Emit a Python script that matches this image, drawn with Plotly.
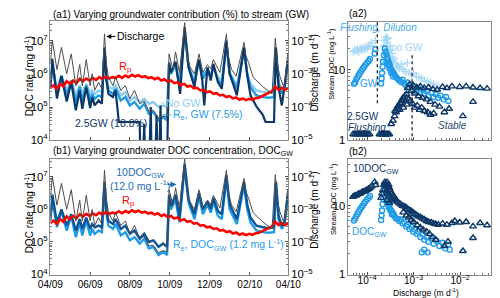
import pandas as pd
import plotly.graph_objects as go

START = "2009-04-01"
END = "2010-04-01"

# ---------------- time series (day offset from 2009-04-01) ----------------
q_days = [0,3,10,17,25,32,39,45,49,55,61,64,68,74,79,83,86,89,96,100,108,115,122,129,137,144,151,158,166,173,
          179,182,188,192,198,206,209,214,221,228,234,241,246,250,260,270,273,278,285,297,300,304,311,326,340,345,348,352,359,364]
discharge = [2.2e-3,1.0e-2,1.35e-3,6.3e-3,1.0e-3,4.0e-3,4.4e-4,1.9e-3,4.4e-4,2.7e-3,
             4.4e-4,1.0e-3,3.2e-4,5.6e-4,3.5e-4,1.6e-2,2.0e-3,7.9e-4,4.4e-4,7.9e-4,
             3.2e-4,4.4e-4,1.8e-4,3.2e-4,1.26e-4,1.5e-4,7.6e-5,7.9e-5,4.7e-5,5.4e-5,
             5.0e-5,4.0e-3,1.35e-3,4.6e-3,1.1e-3,3.5e-2,4.0e-3,1.66e-3,1.0e-3,4.0e-3,
             1.1e-3,1.9e-3,1.4e-3,2.7e-3,1.1e-3,1.6e-2,3.2e-3,1.35e-3,8.5e-4,8.9e-3,
             3.5e-3,2.2e-3,7.9e-4,4.1e-4,2.5e-4,1.17e-2,2.0e-3,8.5e-4,3.5e-4,4.0e-3]

rp_days = [0,5,10,15,20,25,30,35,40,45,50,55,60,65,70,75,80,85,90,95,100,105,110,115,120,125,130,135,140,145,
           150,155,160,165,170,175,180,185,190,195,200,205,210,215,220,225,230,235,240,245,250,255,260,265,270,
           275,280,285,290,295,300,305,310,315,320,325,330,335,340,345,350,355,360,365]
r_p = [3.8e5,4.47e5,3.55e5,5.01e5,4.17e5,6.03e5,5.01e5,6.31e5,5.25e5,7.08e5,6.03e5,7.24e5,6.31e5,7.59e5,6.61e5,
       7.94e5,6.92e5,8.32e5,7.24e5,7.94e5,7.59e5,8.71e5,7.59e5,8.91e5,7.94e5,9.33e5,8.32e5,9.12e5,7.94e5,8.51e5,
       7.41e5,7.94e5,6.92e5,7.59e5,6.31e5,6.92e5,5.75e5,6.31e5,5.25e5,5.62e5,4.57e5,5.01e5,4.17e5,4.37e5,3.63e5,
       3.8e5,3.16e5,3.31e5,2.82e5,2.95e5,2.51e5,2.63e5,2.24e5,2.34e5,2.0e5,2.14e5,1.82e5,1.95e5,1.66e5,1.82e5,
       1.62e5,1.78e5,1.66e5,1.86e5,1.91e5,2.14e5,2.29e5,2.63e5,3.02e5,4.17e5,3.31e5,3.8e5,3.31e5,3.8e5]

re_days = [0,3,10,17,25,32,39,45,49,55,61,64,68,74,79,83,86,89,96,100,108,115,122,129,137,144,151,158,166,173,
           179,182,185,192,198,206,212,221,228,234,241,246,250,257,263,270,275,282,286,297,302,307,316,326,335,343,
           346,350,355,359,364]
re_nogw = [5.62e5,1.78e6,3.55e5,8.91e5,3.16e5,6.31e5,2.24e5,4.47e5,2.51e5,5.01e5,
           2.51e5,3.16e5,2.51e5,3.16e5,2.82e5,3.98e6,7.94e5,3.98e5,3.55e5,4.47e5,
           2.24e5,2.82e5,1.58e5,2.0e5,1.41e5,1.78e5,1.26e5,1.41e5,1.0e5,1.12e5,
           1.0e5,1.78e6,1.0e6,1.78e6,5.62e5,1.58e7,1.58e6,7.08e5,2.24e6,1.0e6,
           1.26e6,8.91e5,1.58e6,7.94e5,6.31e5,7.08e6,1.12e6,6.31e5,4.47e5,4.47e6,
           1.0e6,5.01e5,3.16e5,2.82e5,2.82e5,3.02e5,3.98e6,5.62e5,3.16e5,3.55e5,1.58e6]
re_gw = [4.47e5,2.0e6,2.82e5,8.91e5,2.24e5,6.31e5,1.41e5,3.98e5,1.58e5,4.47e5,
         1.58e5,2.51e5,1.78e5,2.24e5,2.0e5,5.01e6,7.08e5,3.16e5,2.51e5,3.55e5,
         1.58e5,2.0e5,1.12e5,1.41e5,8.91e4,1.26e5,6.31e4,7.08e4,3.98e4,5.01e4,
         3.98e4,2.0e6,1.0e6,2.0e6,3.98e5,2.0e7,1.58e6,5.01e5,2.51e6,7.08e5,
         1.41e6,7.94e5,1.78e6,6.31e5,5.01e5,8.91e6,1.0e6,5.01e5,3.55e5,5.62e6,
         1.0e6,3.98e5,2.24e5,2.0e5,1.91e5,2.0e5,5.62e6,5.01e5,2.51e5,3.55e5,2.24e6]
re_10doc = [5.62e5,2.82e6,3.98e5,1.0e6,3.16e5,7.08e5,2.24e5,5.01e5,2.51e5,5.62e5,
            2.51e5,3.55e5,2.82e5,3.16e5,2.82e5,7.08e6,1.0e6,4.47e5,3.55e5,5.01e5,
            2.51e5,3.16e5,1.78e5,2.24e5,1.26e5,1.78e5,1.0e5,1.12e5,7.08e4,8.91e4,
            7.08e4,2.82e6,1.26e6,2.82e6,5.62e5,2.51e7,2.0e6,7.08e5,3.16e6,1.0e6,
            1.78e6,1.0e6,2.24e6,8.91e5,7.08e5,1.12e7,1.41e6,7.08e5,5.01e5,7.08e6,
            1.41e6,5.62e5,3.16e5,2.82e5,2.63e5,2.82e5,7.08e6,6.31e5,3.16e5,3.98e5,2.82e6]

gw25_days = [0,3,10,17,25,32,39,45,49,55,61,64,68,74,79,83,86,89,96,100,105,137,138,142,144,145,152,154,155,161,
             163,164,167,169,170,179,182,185,192,199,206,212,221,225,228,233,236,241,246,250,257,263,270,275,282,
             286,297,302,307,316,326,330,343,346,350,355,359,364]
re_25gw = [3.55e5,2.82e6,1.82e5,8.51e5,1.48e5,5.62e5,7.94e4,3.16e5,8.91e4,3.98e5,
           9.33e4,2.0e5,1.12e5,1.58e5,1.26e5,6.31e6,6.31e5,2.51e5,2.0e5,3.16e5,
           3.55e4,3.55e4,3.2e3,3.2e3,3.16e4,3.2e3,3.2e3,1.0e5,3.2e3,3.2e3,
           5.62e4,3.2e3,3.2e3,1.12e5,3.2e3,3.2e3,2.19e6,1.12e6,2.34e6,2.51e5,
           2.51e7,1.58e6,3.98e5,1.58e6,2.69e6,6.31e5,1.12e5,1.58e6,6.31e5,2.0e6,
           5.62e5,3.55e5,1.0e7,1.0e6,3.98e5,2.24e5,6.31e6,8.91e5,2.24e5,1.05e5,
           5.75e4,3.55e4,3.55e4,6.31e6,3.98e5,1.12e5,3.98e5,2.51e6]

# ---------------- concentration-discharge scatter ----------------
nogw_q = [5.0e-5,5.4e-5,5.8e-5,6.2e-5,6.6e-5,7.1e-5,7.6e-5,8.1e-5,8.7e-5,9.3e-5,1.0e-4,1.07e-4,1.15e-4,1.25e-4,1.5e-4,
          2.1e-4,2.3e-4,2.4e-4,2.5e-4,2.6e-4,2.7e-4,2.8e-4,3.0e-4,3.2e-4,3.4e-4,3.6e-4,3.8e-4,4.0e-4,4.3e-4,
          2.4e-4,2.6e-4,2.9e-4,3.1e-4,3.5e-4,
          4.6e-4,5.0e-4,5.5e-4,6.0e-4,6.6e-4,7.3e-4,8.0e-4,9.0e-4,1.0e-3,1.15e-3,1.3e-3,1.5e-3,1.7e-3,2.0e-3,2.3e-3,2.7e-3,3.2e-3]
nogw_c = [18,19,18.5,19.5,18,20,19,20.5,19,21,20,21.5,22,24,26,
          14,22,26,29,27,24,28,22,19,17,15,14,12.5,11.5,
          17,20,18,15,13,
          11,10.5,12,10,9.5,12.5,9,8.5,9,8,7.8,7.5,7,6.8,6.5,6.2,6]

gw_q = [5.2e-5,5.5e-5,5.8e-5,6.2e-5,6.6e-5,7.0e-5,7.5e-5,8.0e-5,8.6e-5,9.2e-5,1.0e-4,1.08e-4,1.15e-4,
        1.45e-4,1.5e-4,
        2.0e-4,2.05e-4,2.1e-4,2.15e-4,2.2e-4,2.3e-4,2.4e-4,
        2.5e-4,2.6e-4,2.7e-4,2.8e-4,2.9e-4,3.0e-4,3.1e-4,3.2e-4,3.3e-4,3.5e-4,3.7e-4,3.9e-4,4.1e-4,4.4e-4,
        2.6e-4,2.8e-4,3.0e-4,3.3e-4,3.6e-4,
        4.7e-4,5.0e-4,5.4e-4,5.8e-4,6.3e-4,6.8e-4,7.4e-4,8.0e-4,8.8e-4,9.6e-4,1.05e-3,1.15e-3,1.25e-3,1.4e-3,
        1.55e-3,1.7e-3,1.9e-3,2.1e-3,2.4e-3,2.7e-3,3.0e-3,3.4e-3,3.8e-3,4.4e-3,5.0e-3,5.6e-3]
gw_c = [6.3,6.6,7.2,7.8,8.4,9.0,9.6,10.3,11,11.8,12.5,13.3,14.2,
        17,19.5,
        6.4,7.5,9,11,13,16,20,
        18,16.5,15,14,13,12,11.5,10.5,10,9.5,9,8.5,8,7.6,
        13,12,10.5,9,8,
        7.3,7.0,6.7,7.2,6.4,6.0,6.6,5.7,6.2,5.3,5.8,5.0,5.5,4.8,
        5.2,4.6,5.0,4.3,4.7,4.1,4.5,4.0,4.3,3.8,4.1,3.6]

gw25_q = [5.0e-5,5.5e-5,6.0e-5,6.5e-5,7.0e-5,7.6e-5,8.2e-5,8.9e-5,9.6e-5,1.04e-4,1.12e-4,
          1.85e-4,2.0e-4,2.15e-4,2.3e-4,2.45e-4,2.6e-4,2.8e-4,3.0e-4,
          3.3e-4,3.6e-4,3.9e-4,4.2e-4,4.5e-4,4.8e-4,5.2e-4,5.6e-4,6.0e-4,6.5e-4,7.0e-4,
          4.0e-4,4.5e-4,5.0e-4,5.5e-4,6.0e-4,6.6e-4,7.2e-4,8.0e-4,
          7.5e-4,8.2e-4,9.0e-4,9.8e-4,1.07e-3,1.17e-3,1.28e-3,1.4e-3,1.55e-3,1.7e-3,1.9e-3,2.1e-3,2.3e-3,2.6e-3,2.9e-3,3.2e-3,3.6e-3,
          8.5e-4,9.5e-4,1.05e-3,1.2e-3,1.35e-3,1.5e-3,1.7e-3,2.0e-3,2.3e-3,2.7e-3,
          4.2e-3,5.2e-3,6.7e-3,9.8e-3,1.35e-2,1.9e-2,2.7e-2,3.8e-2,4.6e-3,5.8e-3,1.15e-2,1.9e-2]
gw25_c = [1.22,1.22,1.22,1.22,1.22,1.22,1.22,1.22,1.22,1.22,1.22,
          1.22,1.22,1.22,1.22,1.22,1.22,1.22,1.22,
          1.7,1.9,2.2,2.5,2.8,3.1,3.4,3.7,4.0,4.3,4.5,
          2.6,3.0,2.7,3.3,2.9,3.6,3.2,3.8,
          5.5,6.2,5.0,6.0,4.6,5.6,4.2,5.8,4.0,5.5,3.8,5.6,3.5,5.3,3.2,5.2,3.0,
          3.6,3.3,2.9,3.1,2.7,2.9,2.6,2.5,2.3,2.4,
          5.7,5.5,5.8,5.7,5.8,5.6,5.5,5.4,2.5,2.8,2.2,3.5]

doc10_q = [5.0e-5,5.4e-5,5.8e-5,6.2e-5,6.6e-5,7.1e-5,7.6e-5,8.1e-5,8.7e-5,9.3e-5,1.0e-4,1.07e-4,1.15e-4,1.25e-4,
           1.45e-4,1.52e-4,
           2.0e-4,2.1e-4,2.2e-4,2.3e-4,2.4e-4,
           2.5e-4,2.6e-4,2.7e-4,2.8e-4,2.9e-4,3.0e-4,3.1e-4,3.2e-4,3.4e-4,3.6e-4,3.8e-4,4.0e-4,
           2.6e-4,2.8e-4,3.0e-4,3.3e-4,3.6e-4,2.7e-4,3.0e-4,
           4.4e-4,4.8e-4,5.2e-4,5.7e-4,6.2e-4,6.8e-4,7.4e-4,8.1e-4,8.9e-4,9.7e-4,1.06e-3,1.16e-3,1.27e-3,1.4e-3,
           1.55e-3,1.7e-3,1.9e-3,2.1e-3,2.4e-3,2.7e-3,3.0e-3,3.4e-3,
           6.0e-4,7.0e-4,8.0e-4,9.0e-4,1.0e-3,1.2e-3,1.4e-3,1.6e-3,1.9e-3,2.2e-3,2.6e-3,3.0e-3,
           4.2e-3,5.2e-3,6.7e-3,7.7e-3,9.8e-3,1.35e-2,1.9e-2,2.7e-2,3.8e-2,4.6e-3,5.5e-3,1.15e-2,1.9e-2]
doc10_c = [13.5,14,14,14.5,15,15,15.5,16,16,16.5,17,17.5,18,19,
           22,20,
           13,15,17,20,22,
           21,20,22,19,20,18,17,16,15,14,13.5,12.5,
           16,15,14,13,12,12,11,
           11.5,11,10.5,10,9.8,9.5,9.0,8.7,8.3,8,7.6,7.3,7.0,6.8,
           6.5,6.3,6.0,5.8,5.7,5.5,5.4,5.3,
           8,7.2,6.8,6.2,5.8,5.2,4.8,4.5,4.2,3.9,3.5,3.2,
           5.5,5.3,5.6,6.0,5.7,5.8,5.0,5.6,5.2,2.6,3.0,2.2,3.4]

docgw_q = [5.2e-5,5.5e-5,5.8e-5,6.2e-5,6.6e-5,7.0e-5,7.5e-5,8.0e-5,8.6e-5,9.2e-5,1.0e-4,1.08e-4,1.15e-4,
           2.0e-4,2.05e-4,2.1e-4,2.15e-4,2.2e-4,2.3e-4,2.4e-4,
           2.5e-4,2.6e-4,2.7e-4,2.8e-4,2.9e-4,3.0e-4,3.1e-4,3.3e-4,3.5e-4,3.7e-4,3.9e-4,4.2e-4,
           2.7e-4,2.9e-4,3.2e-4,3.4e-4,
           4.5e-4,4.9e-4,5.3e-4,5.8e-4,6.3e-4,6.9e-4,7.5e-4,8.2e-4,9.0e-4,9.8e-4,1.07e-3,1.17e-3,1.28e-3,1.4e-3,
           1.55e-3,1.7e-3,1.9e-3,2.1e-3,2.4e-3,2.7e-3,3.1e-3,3.6e-3,4.2e-3,4.8e-3,5.5e-3,6.0e-3,
           1.5e-3,1.7e-3,2.0e-3]
docgw_c = [6.1,6.5,7.0,7.6,8.2,8.8,9.4,10,10.8,11.5,12.3,13,13.8,
           6.2,7.2,8.5,10.5,12.5,15,18,
           17,15,14,12,11,10,9,8.5,8,7.5,7,6.5,
           11,9.5,8.5,7.5,
           6.5,6.0,6.3,5.5,5.8,5.0,5.3,4.6,4.9,4.2,4.5,3.9,4.2,3.5,
           3.8,3.2,3.5,3.0,3.3,2.8,3.1,2.6,2.9,2.4,2.7,2.3,
           2.1,2.3,2.1]

# regime boundaries in (a2)
regime_q = [1.66e-4, 9.3e-4]
regime_c_top = [47.0, 16.0]
regime_c_bot = [3.06, 1.0]

# ---------------- styling ----------------
C_GRAY = "#4d4d4d"
C_RED = "#ff0000"
C_LIGHT = "#8ecbf2"
C_MED = "#1f9be6"
C_NAVY = "#0c3766"
C_DOC10 = "#0d5596"
FONT = "Liberation Sans, Arial, sans-serif"
W, H = 500, 298


def dates(days):
    return pd.Timestamp(START) + pd.to_timedelta(days, unit="D")


def px(x):
    return x / W


def py(y):
    return 1 - y / H


fig = go.Figure()

# (a1)
fig.add_trace(go.Scatter(x=dates(re_days), y=re_nogw, mode="lines", line=dict(color=C_LIGHT, width=2.4), xaxis="x", yaxis="y"))
fig.add_trace(go.Scatter(x=dates(re_days), y=re_gw, mode="lines", line=dict(color=C_MED, width=2.4), xaxis="x", yaxis="y"))
fig.add_trace(go.Scatter(x=dates(gw25_days), y=re_25gw, mode="lines", line=dict(color=C_NAVY, width=2.2), xaxis="x", yaxis="y"))
fig.add_trace(go.Scatter(x=dates(rp_days), y=r_p, mode="lines", line=dict(color=C_RED, width=2.6), xaxis="x", yaxis="y"))
fig.add_trace(go.Scatter(x=dates(q_days), y=discharge, mode="lines", line=dict(color=C_GRAY, width=1), xaxis="x", yaxis="y2"))

# (b1)
fig.add_trace(go.Scatter(x=dates(re_days), y=re_gw, mode="lines", line=dict(color=C_MED, width=2.4), xaxis="x2", yaxis="y3"))
fig.add_trace(go.Scatter(x=dates(re_days), y=re_10doc, mode="lines", line=dict(color=C_DOC10, width=2.4), xaxis="x2", yaxis="y3"))
fig.add_trace(go.Scatter(x=dates(rp_days), y=r_p, mode="lines", line=dict(color=C_RED, width=2.6), xaxis="x2", yaxis="y3"))
fig.add_trace(go.Scatter(x=dates(q_days), y=discharge, mode="lines", line=dict(color=C_GRAY, width=1), xaxis="x2", yaxis="y4"))

# (a2)
fig.add_trace(go.Scatter(x=nogw_q, y=nogw_c, mode="markers", xaxis="x3", yaxis="y5",
                         marker=dict(symbol="cross-thin", size=6, line=dict(color="#a9d8f7", width=1.2))))
fig.add_trace(go.Scatter(x=gw_q, y=gw_c, mode="markers", xaxis="x3", yaxis="y5",
                         marker=dict(symbol="circle-open", size=5, color=C_MED, line=dict(width=1.4))))
fig.add_trace(go.Scatter(x=gw25_q, y=gw25_c, mode="markers", xaxis="x3", yaxis="y5",
                         marker=dict(symbol="triangle-up-open", size=6, color=C_NAVY, line=dict(width=1.4))))
for q, ct, cb in zip(regime_q, regime_c_top, regime_c_bot):
    fig.add_trace(go.Scatter(x=[q, q], y=[ct, cb], mode="lines", xaxis="x3", yaxis="y5",
                             line=dict(color="#222222", width=1.3, dash="dot")))

# (b2)
fig.add_trace(go.Scatter(x=docgw_q, y=docgw_c, mode="markers", xaxis="x4", yaxis="y6",
                         marker=dict(symbol="circle-open", size=5, color=C_MED, line=dict(width=1.4))))
fig.add_trace(go.Scatter(x=doc10_q, y=doc10_c, mode="markers", xaxis="x4", yaxis="y6",
                         marker=dict(symbol="triangle-up-open", size=6, color=C_NAVY, line=dict(width=1.4))))

frame = dict(showline=True, linecolor="#8a8a8a", linewidth=1, ticks="inside", ticklen=3,
             tickcolor="#555555", showgrid=False, zeroline=False,
             tickfont=dict(family=FONT, size=9, color="black"))
logax = dict(type="log", dtick=1, exponentformat="power",
             minor=dict(ticks="inside", ticklen=2, tickcolor="#777777", showgrid=False))

xa_time = dict(frame, type="date", range=[START, END], dtick="M2", tick0=START, tickformat="%m/%y", mirror=True,
               tickfont=dict(family=FONT, size=10, color="black"))

fig.update_layout(
    width=W, height=H, margin=dict(l=0, r=0, t=0, b=0),
    paper_bgcolor="white", plot_bgcolor="white", showlegend=False,
    font=dict(family=FONT, size=10, color="black"),
    xaxis=dict(xa_time, domain=[px(31), px(282)], anchor="y", showticklabels=False),
    yaxis=dict(frame, **logax, domain=[py(135), py(13)], range=[4, 7.6], anchor="x", side="left"),
    yaxis2=dict(frame, **logax, range=[-5, -1.4], anchor="x", overlaying="y", side="right"),
    xaxis2=dict(xa_time, domain=[px(31), px(282)], anchor="y3"),
    yaxis3=dict(frame, **logax, domain=[py(272), py(154)], range=[4, 7.55], anchor="x2", side="left"),
    yaxis4=dict(frame, **logax, range=[-5, -1.45], anchor="x2", overlaying="y3", side="right"),
    xaxis3=dict(frame, **logax, domain=[px(345), px(496)], range=[-4.41, -1.33], anchor="y5",
                mirror=True, showticklabels=False),
    yaxis5=dict(frame, **logax, domain=[py(135), py(14)], range=[0, 1.68], anchor="x3", mirror=True),
    xaxis4=dict(frame, **logax, domain=[px(345), px(496)], range=[-4.41, -1.33], anchor="y6", mirror=True,
                ticklabelstandoff=-3, tickfont=dict(family=FONT, size=8, color="black")),
    yaxis6=dict(frame, **logax, domain=[py(272), py(154)], range=[0, 1.68], anchor="x4", mirror=True),
)


def note(text, x, y, color="black", size=10, xanchor="center", angle=0, **kw):
    fig.add_annotation(text=text, x=px(x), y=py(y), xref="paper", yref="paper", showarrow=False,
                       xanchor=xanchor, yanchor="middle", textangle=angle,
                       font=dict(family=FONT, size=size, color=color), **kw)


note("(a1) Varying groundwater contribution (%) to stream (GW)", 32, 7, xanchor="left")
note("(b1) Varying groundwater DOC concentration, DOC<sub>GW</sub>", 32, 146, xanchor="left")
note("(a2)", 344, 6, xanchor="left")
note("(b2)", 344, 146, xanchor="left")
note("DOC rate (mg d<sup>-1</sup>)", 8, 70, size=10, angle=-90)
note("DOC rate (mg d<sup>-1</sup>)", 8, 210, size=10, angle=-90)
note("Discharge (m d<sup>-1</sup>)", 309, 66, size=10, angle=-90)
note("Discharge (m d<sup>-1</sup>)", 309, 206, size=10, angle=-90)
note("Stream DOC (mg L<sup>-1</sup>)", 327, 57, size=7.5, angle=-90)
note("Stream DOC (mg L<sup>-1</sup>)", 329, 195, size=7.5, angle=-90)
fig.add_annotation(text="Discharge (m d<sup>-1</sup>)", x=px(427), y=0.0, xref="paper", yref="paper",
                   showarrow=False, xanchor="center", yanchor="bottom", yshift=0,
                   font=dict(family=FONT, size=8.5, color="black"))

# (a1) labels
fig.add_annotation(text="Discharge", x=px(90), y=py(29), xref="paper", yref="paper", showarrow=True,
                   ax=34, ay=0, arrowhead=2, arrowsize=1, arrowwidth=1, arrowcolor="black",
                   font=dict(family=FONT, size=10.5, color="black"))
note("R<sub>p</sub>", 110, 60, color=C_RED, size=11)
fig.add_annotation(text="No GW", x=px(148), y=py(97), xref="paper", yref="paper", showarrow=True,
                   ax=22, ay=0, arrowhead=0, arrowwidth=1, arrowcolor=C_LIGHT,
                   font=dict(family=FONT, size=10.5, color=C_LIGHT))
fig.add_annotation(text="R<sub>e</sub>, GW (7.5%)", x=px(150), y=py(109), xref="paper", yref="paper",
                   showarrow=True, ax=44, ay=0, arrowhead=0, arrowwidth=1, arrowcolor=C_MED,
                   font=dict(family=FONT, size=10.5, color=C_MED))
note("2.5GW (18.8%)", 95, 117, color=C_NAVY, size=10.5)

# (b1) labels
note("10DOC<sub>GW</sub><br>(12.0 mg L<sup>-1</sup>)", 126, 175, color="#1d6db4", size=10.5)
fig.add_annotation(text=" ", x=px(164), y=py(180), xref="paper", yref="paper", showarrow=True,
                   ax=-12, ay=0, arrowhead=2, arrowsize=1, arrowwidth=1.2, arrowcolor="#1d6db4")
note("R<sub>p</sub>", 113, 197, color=C_RED, size=11)
note("R<sub>e</sub>, DOC<sub>GW</sub> (1.2 mg L<sup>-1</sup>)", 158, 242, color=C_MED, size=10.5, xanchor="left")

# (a2) labels
note("<i>Flushing, Dilution</i>", 377, 20, color="#48aaea", size=10)
note("no GW", 407, 40, color="#9fd3f5", size=10)
note("GW", 367, 77, color=C_MED, size=10)
note("2.5GW", 361, 111, color=C_NAVY, size=10)
note("<i>Flushing</i>", 365, 122, color=C_NAVY, size=10)
note("<i>Stable</i>", 455, 120, color="#2c4a6e", size=10)

# (b2) labels
note("10DOC<sub>GW</sub>", 374, 164, color=C_NAVY, size=10)
note("DOC<sub>GW</sub>", 368, 229, color=C_MED, size=10)

fig.write_html("out.html")
